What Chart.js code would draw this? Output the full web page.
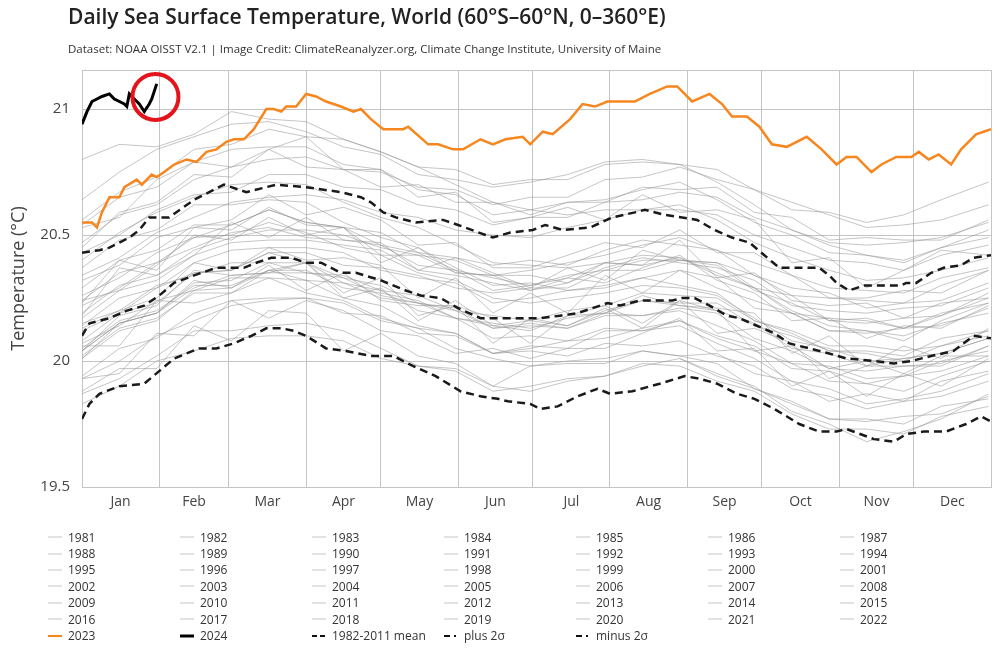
<!DOCTYPE html>
<html>
<head>
<meta charset="utf-8">
<script src="https://cdn.jsdelivr.net/npm/chart.js@4.4.1/dist/chart.umd.min.js"></script>
<style>
  html, body { margin: 0; padding: 0; background: #fff; }
  #wrap { position: relative; width: 1000px; height: 664px; overflow: hidden; font-family: 'Open Sans', 'DejaVu Sans', sans-serif; }
  #title { position: absolute; left: 68px; top: 2px; font-size: 21px; font-weight: 600; color: #222; white-space: nowrap; }
  #sub { position: absolute; left: 68px; top: 41px; font-size: 11.5px; color: #333; white-space: nowrap; }
  #chartbox { position: absolute; left: 0; top: 0; width: 1000px; height: 664px; }
  #legend { position: absolute; left: 48px; top: 529px; width: 940px; display: grid; grid-template-columns: repeat(7, 132px); grid-auto-rows: 16.4px; font-size: 12px; color: #333; }
  .li { display: flex; align-items: center; white-space: nowrap; }
  .li svg { width: 14px; height: 10px; margin-right: 6px; flex: none; }
</style>
</head>
<body>
<div id="wrap">
  <div id="chartbox"><canvas id="c"></canvas></div>
  <div id="title">Daily Sea Surface Temperature, World (60°S–60°N, 0–360°E)</div>
  <div id="sub">Dataset: NOAA OISST V2.1 | Image Credit: ClimateReanalyzer.org, Climate Change Institute, University of Maine</div>
  <div id="legend"></div>
</div>
<script>
// ---------- axis categories ----------
const MONTHS = ['Jan','Feb','Mar','Apr','May','Jun','Jul','Aug','Sep','Oct','Nov','Dec'];
const MONTH_START = [0,31,59,90,120,151,181,212,243,273,304,334,365];
const Y_TICKS = [19.5, 20, 20.5, 21];

// ---------- grey years: values on these days of year ----------
const DAYS = [0,15,30,45,60,75,90,105,120,135,150,165,180,195,210,225,240,255,270,285,300,315,330,345,364];
const Y1981 = [null,null,null,null,null,null,null,null,null,null,null,null,null,null,null,null,20.01,19.95,19.90,19.80,19.75,19.68,19.72,19.77,19.87];
const Y1982 = [19.88,19.97,19.97,20.14,20.08,20.20,20.19,20.04,20.11,20.02,19.99,19.90,19.98,19.99,19.99,20.04,20.02,20.03,19.95,19.92,19.84,19.87,19.84,19.92,19.96];
const Y1983 = [20.02,20.13,20.17,20.27,20.27,20.33,20.27,20.24,20.17,20.13,20.05,20.01,19.98,20.00,20.01,20.04,20.02,19.99,19.89,19.83,19.77,19.77,19.75,19.82,19.85];
const Y1984 = [19.87,19.93,20.02,20.12,20.12,20.14,20.15,20.12,20.05,19.98,19.97,19.90,19.88,19.92,19.94,19.99,19.98,19.92,19.88,19.79,19.73,19.73,19.71,19.78,19.82];
const Y1985 = [19.83,19.90,20.00,20.04,20.09,20.10,20.10,20.08,20.01,19.98,19.96,19.88,19.90,19.93,19.94,19.98,20.01,19.94,19.89,19.84,19.77,19.76,19.78,19.79,19.86];
const Y1986 = [19.93,19.95,20.11,20.10,20.24,20.17,20.24,20.20,20.12,20.10,20.03,20.05,20.01,20.05,20.05,20.11,20.17,20.04,20.05,19.90,19.96,19.86,19.95,19.90,20.01];
const Y1987 = [20.01,20.12,20.16,20.28,20.29,20.36,20.32,20.31,20.25,20.23,20.17,20.15,20.13,20.17,20.19,20.24,20.23,20.23,20.14,20.10,20.04,20.04,20.02,20.09,20.12];
const Y1988 = [20.13,20.20,20.30,20.34,20.39,20.39,20.39,20.31,20.28,20.20,20.17,20.09,20.10,20.08,20.13,20.12,20.14,20.07,20.01,19.92,19.89,19.83,19.85,19.88,19.95];
const Y1989 = [19.93,20.00,20.10,20.16,20.22,20.24,20.25,20.19,20.18,20.11,20.10,20.03,20.06,20.05,20.12,20.12,20.16,20.10,20.06,19.97,19.96,19.91,19.94,19.96,20.02];
const Y1990 = [20.01,20.15,20.19,20.32,20.29,20.38,20.28,20.35,20.24,20.22,20.22,20.07,20.17,20.14,20.21,20.13,20.24,20.20,20.04,20.06,19.97,20.00,19.95,20.02,20.02];
const Y1991 = [20.05,20.16,20.20,20.30,20.30,20.36,20.36,20.29,20.27,20.24,20.17,20.14,20.16,20.14,20.20,20.24,20.22,20.20,20.15,20.05,20.03,19.98,20.01,20.03,20.09];
const Y1992 = [20.07,20.14,20.24,20.28,20.33,20.33,20.32,20.25,20.22,20.14,20.11,20.03,20.04,20.02,20.07,20.06,20.08,20.02,19.98,19.89,19.86,19.81,19.84,19.86,19.92];
const Y1993 = [19.94,20.05,20.09,20.19,20.24,20.25,20.25,20.23,20.16,20.13,20.11,20.03,20.05,20.08,20.09,20.13,20.16,20.09,20.04,19.99,19.92,19.91,19.88,19.94,20.00];
const Y1994 = [20.06,20.06,20.24,20.23,20.27,20.36,20.39,20.25,20.29,20.16,20.24,20.14,20.12,20.18,20.19,20.26,20.22,20.21,20.19,20.03,20.10,19.98,20.06,20.01,20.13];
const Y1995 = [20.12,20.19,20.29,20.35,20.36,20.43,20.39,20.33,20.30,20.23,20.20,20.13,20.14,20.13,20.18,20.18,20.20,20.14,20.08,19.99,19.98,19.93,19.94,20.00,20.04];
const Y1996 = [20.04,20.15,20.19,20.29,20.34,20.35,20.35,20.33,20.26,20.23,20.21,20.13,20.15,20.13,20.19,20.18,20.21,20.19,20.09,20.04,19.97,19.96,19.98,19.99,20.06];
const Y1997 = [20.08,20.19,20.23,20.35,20.36,20.43,20.43,20.38,20.37,20.34,20.29,20.27,20.29,20.29,20.36,20.40,20.40,20.39,20.34,20.26,20.25,20.24,20.23,20.30,20.36];
const Y1998 = [20.37,20.48,20.52,20.62,20.62,20.64,20.63,20.55,20.49,20.45,20.37,20.30,20.31,20.28,20.30,20.33,20.30,20.27,20.16,20.11,20.04,20.03,20.00,20.06,20.10];
const Y1999 = [20.04,20.18,20.22,20.36,20.34,20.35,20.39,20.27,20.33,20.18,20.22,20.17,20.07,20.18,20.22,20.15,20.24,20.11,20.13,20.07,19.93,19.98,19.98,19.98,20.06];
const Y2000 = [20.04,20.15,20.19,20.31,20.32,20.39,20.35,20.34,20.28,20.26,20.20,20.18,20.16,20.20,20.22,20.27,20.26,20.25,20.16,20.12,20.06,20.06,20.04,20.06,20.12];
const Y2001 = [20.14,20.25,20.29,20.39,20.44,20.45,20.45,20.43,20.36,20.33,20.31,20.23,20.25,20.28,20.29,20.33,20.36,20.29,20.24,20.19,20.12,20.11,20.13,20.14,20.21];
const Y2002 = [20.24,20.28,20.38,20.50,20.48,20.57,20.50,20.53,20.39,20.45,20.35,20.34,20.34,20.31,20.39,20.38,20.48,20.33,20.35,20.24,20.22,20.23,20.17,20.23,20.25];
const Y2003 = [20.29,20.40,20.44,20.54,20.54,20.60,20.55,20.53,20.46,20.43,20.36,20.33,20.30,20.33,20.39,20.38,20.41,20.34,20.29,20.19,20.17,20.16,20.13,20.19,20.23];
const Y2004 = [20.22,20.29,20.39,20.45,20.51,20.53,20.49,20.48,20.46,20.38,20.36,20.28,20.30,20.34,20.36,20.36,20.40,20.38,20.28,20.23,20.16,20.15,20.17,20.18,20.25];
const Y2005 = [20.23,20.40,20.36,20.53,20.52,20.61,20.54,20.53,20.42,20.42,20.35,20.34,20.28,20.33,20.31,20.37,20.42,20.32,20.27,20.16,20.17,20.09,20.14,20.13,20.22];
const Y2006 = [20.17,20.28,20.32,20.42,20.47,20.48,20.48,20.46,20.44,20.36,20.34,20.31,20.28,20.31,20.37,20.41,20.39,20.37,20.32,20.22,20.20,20.19,20.21,20.22,20.29];
const Y2007 = [20.26,20.33,20.43,20.49,20.50,20.55,20.51,20.45,20.42,20.35,20.32,20.25,20.23,20.25,20.27,20.30,20.29,20.26,20.17,20.08,20.05,20.00,20.01,20.03,20.09];
const Y2008 = [20.15,20.20,20.25,20.39,20.36,20.45,20.40,20.41,20.38,20.25,20.33,20.19,20.27,20.19,20.34,20.27,20.36,20.33,20.21,20.19,20.12,20.12,20.08,20.16,20.23];
const Y2009 = [20.19,20.30,20.34,20.44,20.49,20.52,20.52,20.50,20.45,20.42,20.40,20.34,20.36,20.39,20.42,20.46,20.49,20.44,20.39,20.34,20.29,20.28,20.27,20.33,20.37];
const Y2010 = [20.40,20.51,20.59,20.65,20.70,20.71,20.70,20.63,20.57,20.53,20.46,20.39,20.38,20.37,20.39,20.42,20.41,20.35,20.29,20.20,20.14,20.12,20.10,20.15,20.19];
const Y2011 = [20.18,20.37,20.34,20.42,20.55,20.49,20.57,20.48,20.47,20.36,20.41,20.35,20.29,20.37,20.32,20.44,20.40,20.39,20.29,20.26,20.16,20.17,20.13,20.18,20.27];
const Y2012 = [20.24,20.35,20.39,20.49,20.54,20.60,20.55,20.53,20.51,20.43,20.41,20.38,20.40,20.38,20.44,20.48,20.46,20.44,20.34,20.29,20.27,20.21,20.23,20.24,20.31];
const Y2013 = [20.32,20.38,20.49,20.53,20.56,20.66,20.58,20.61,20.56,20.46,20.47,20.37,20.37,20.42,20.47,20.45,20.52,20.43,20.43,20.34,20.25,20.25,20.28,20.27,20.36];
const Y2014 = [20.34,20.41,20.51,20.57,20.63,20.65,20.66,20.64,20.59,20.57,20.52,20.50,20.49,20.53,20.56,20.60,20.60,20.58,20.50,20.45,20.40,20.39,20.36,20.42,20.46];
const Y2015 = [20.47,20.58,20.62,20.72,20.77,20.80,20.81,20.76,20.75,20.69,20.68,20.62,20.65,20.65,20.72,20.73,20.77,20.72,20.68,20.60,20.59,20.55,20.58,20.64,20.71];
const Y2016 = [20.80,20.86,20.85,20.90,20.99,20.96,20.95,20.88,20.83,20.77,20.70,20.63,20.60,20.58,20.60,20.60,20.62,20.56,20.47,20.41,20.36,20.32,20.33,20.36,20.41];
const Y2017 = [20.53,20.57,20.72,20.79,20.77,20.84,20.89,20.76,20.76,20.65,20.67,20.55,20.57,20.61,20.56,20.66,20.59,20.60,20.56,20.39,20.41,20.29,20.36,20.44,20.42];
const Y2018 = [20.43,20.50,20.60,20.66,20.67,20.74,20.74,20.69,20.68,20.62,20.60,20.54,20.57,20.57,20.63,20.64,20.67,20.65,20.57,20.52,20.47,20.46,20.47,20.49,20.55];
const Y2019 = [20.56,20.67,20.73,20.84,20.86,20.92,20.89,20.88,20.83,20.77,20.76,20.70,20.72,20.72,20.78,20.79,20.78,20.76,20.68,20.63,20.58,20.53,20.54,20.56,20.62];
const Y2020 = [20.64,20.75,20.84,20.89,20.94,20.95,20.91,20.85,20.82,20.74,20.72,20.69,20.71,20.74,20.79,20.80,20.78,20.71,20.62,20.52,20.46,20.42,20.40,20.45,20.49];
const Y2021 = [20.45,20.59,20.63,20.74,20.73,20.84,20.77,20.76,20.69,20.70,20.63,20.63,20.58,20.63,20.63,20.69,20.68,20.69,20.59,20.57,20.48,20.49,20.48,20.48,20.56];
const Y2022 = [20.54,20.65,20.69,20.79,20.84,20.85,20.85,20.78,20.76,20.68,20.66,20.58,20.60,20.63,20.64,20.68,20.71,20.64,20.55,20.50,20.43,20.42,20.39,20.45,20.52];

const GREY_YEARS = [
  ['1981',Y1981],['1982',Y1982],['1983',Y1983],['1984',Y1984],['1985',Y1985],['1986',Y1986],['1987',Y1987],
  ['1988',Y1988],['1989',Y1989],['1990',Y1990],['1991',Y1991],['1992',Y1992],['1993',Y1993],['1994',Y1994],
  ['1995',Y1995],['1996',Y1996],['1997',Y1997],['1998',Y1998],['1999',Y1999],['2000',Y2000],['2001',Y2001],
  ['2002',Y2002],['2003',Y2003],['2004',Y2004],['2005',Y2005],['2006',Y2006],['2007',Y2007],['2008',Y2008],
  ['2009',Y2009],['2010',Y2010],['2011',Y2011],['2012',Y2012],['2013',Y2013],['2014',Y2014],['2015',Y2015],
  ['2016',Y2016],['2017',Y2017],['2018',Y2018],['2019',Y2019],['2020',Y2020],['2021',Y2021],['2022',Y2022]
];

// ---------- 2023 ----------
const D2023 = [0,4,6,8,11,15,17,22,24,28,30,33,37,42,46,50,54,58,61,65,69,74,77,80,82,86,90,94,98,104,109,112,116,121,129,131,139,143,149,153,160,165,170,177,180,185,189,196,201,206,211,222,228,235,239,245,252,257,261,267,272,277,283,291,297,303,307,311,317,321,327,333,336,340,344,349,353,359,362,365];
const V2023 = [20.55,20.55,20.53,20.59,20.65,20.65,20.69,20.72,20.70,20.74,20.73,20.75,20.78,20.80,20.79,20.83,20.84,20.87,20.88,20.88,20.92,21.00,21.00,20.99,21.01,21.01,21.06,21.05,21.03,21.01,20.99,21.00,20.96,20.92,20.92,20.93,20.86,20.86,20.84,20.84,20.88,20.86,20.88,20.89,20.86,20.91,20.90,20.96,21.02,21.01,21.03,21.03,21.06,21.09,21.09,21.03,21.06,21.02,20.97,20.97,20.93,20.86,20.85,20.89,20.84,20.78,20.81,20.81,20.75,20.78,20.81,20.81,20.83,20.80,20.82,20.78,20.84,20.90,20.91,20.92];

// ---------- 2024 ----------
const D2024 = [0,2,4,6,8,11,13,17,18,19,21,23,25,27,28,30];
const V2024 = [20.94,20.99,21.03,21.04,21.05,21.06,21.04,21.02,21.01,21.06,21.04,21.02,20.99,21.02,21.04,21.10];

// ---------- 1982-2011 mean ----------
const D_MEAN = [0,3,11,18,25,31,37,45,54,65,70,76,84,90,96,104,110,120,130,136,144,151,160,184,192,199,205,211,216,224,237,241,246,252,259,264,271,278,284,292,300,307,318,326,333,341,350,358,365];
const V_MEAN = [20.10,20.15,20.17,20.20,20.22,20.26,20.31,20.34,20.37,20.37,20.39,20.41,20.41,20.39,20.39,20.35,20.35,20.32,20.28,20.26,20.25,20.21,20.17,20.17,20.18,20.19,20.21,20.23,20.22,20.24,20.24,20.25,20.25,20.22,20.18,20.17,20.14,20.11,20.07,20.05,20.03,20.01,20.00,19.99,20.00,20.02,20.04,20.10,20.09];

// ---------- plus 2 sigma ----------
const D_PLUS = [0,7,11,19,23,27,35,45,57,66,78,90,104,112,116,121,126,134,145,151,162,165,172,181,186,193,204,213,222,226,234,247,254,261,268,274,280,296,300,303,308,314,329,331,335,341,346,353,358,365];
const V_PLUS = [20.43,20.44,20.45,20.49,20.52,20.57,20.57,20.64,20.70,20.67,20.70,20.69,20.67,20.65,20.63,20.59,20.57,20.55,20.56,20.54,20.50,20.49,20.51,20.52,20.54,20.52,20.53,20.57,20.59,20.60,20.58,20.56,20.52,20.49,20.47,20.42,20.37,20.37,20.34,20.31,20.28,20.30,20.30,20.31,20.31,20.35,20.37,20.38,20.41,20.42];

// ---------- minus 2 sigma ----------
const D_MINUS = [0,3,7,15,25,31,37,47,54,61,68,74,80,85,90,98,106,116,125,133,142,152,160,167,171,180,184,191,199,207,212,221,232,242,248,255,263,270,278,288,296,303,307,318,326,331,338,347,355,361,365];
const V_MINUS = [19.77,19.83,19.87,19.90,19.91,19.96,20.01,20.05,20.05,20.07,20.10,20.13,20.13,20.12,20.10,20.05,20.04,20.02,20.02,19.98,19.94,19.88,19.86,19.85,19.84,19.83,19.81,19.82,19.86,19.89,19.87,19.88,19.91,19.94,19.93,19.91,19.87,19.85,19.81,19.75,19.72,19.72,19.73,19.69,19.68,19.71,19.72,19.72,19.75,19.78,19.76];

// ---------- annotation: red circle around latest 2024 value ----------
const CIRCLE_AT = { day: 29.5, temp: 21.048 };

// ---------- styles ----------
const GRID = '#c4c4c4';
const GREY_LINE = 'rgba(150,150,150,0.55)';
const ORANGE = '#f7861e';
const DASH_COLOR = '#1a1a1a';

function pts(days, vals) { return days.map((d, i) => ({ x: d, y: vals[i] })); }

const datasets = [];
datasets.push({ label: '2024', data: pts(D2024, V2024), borderColor: '#000', borderWidth: 3, order: 0, legendKind: 'line' });
datasets.push({ label: '2023', data: pts(D2023, V2023), borderColor: ORANGE, borderWidth: 2.5, order: 1, legendKind: 'line' });
datasets.push({ label: '1982-2011 mean', data: pts(D_MEAN, V_MEAN), borderColor: DASH_COLOR, borderWidth: 2.5, borderDash: [8, 5], order: 2, legendKind: 'dash' });
datasets.push({ label: 'plus 2σ', data: pts(D_PLUS, V_PLUS), borderColor: DASH_COLOR, borderWidth: 2.5, borderDash: [8, 5], order: 2, legendKind: 'dashdot' });
datasets.push({ label: 'minus 2σ', data: pts(D_MINUS, V_MINUS), borderColor: DASH_COLOR, borderWidth: 2.5, borderDash: [8, 5], order: 2, legendKind: 'dashdot' });
GREY_YEARS.forEach(([yr, arr]) => {
  datasets.push({ label: yr, data: pts(DAYS, arr), borderColor: GREY_LINE, borderWidth: 1, order: 3, legendKind: 'grey' });
});

const MONTH_MID = MONTHS.map((m, i) => (MONTH_START[i] + MONTH_START[i + 1]) / 2);

const circlePlugin = {
  id: 'circle',
  afterDatasetsDraw(chart) {
    const { ctx, scales } = chart;
    const cx = scales.x.getPixelForValue(CIRCLE_AT.day);
    const cy = scales.y.getPixelForValue(CIRCLE_AT.temp);
    ctx.save();
    ctx.beginPath();
    ctx.arc(cx, cy, 23, 0, Math.PI * 2);
    ctx.strokeStyle = '#e3141b';
    ctx.lineWidth = 4;
    ctx.stroke();
    ctx.restore();
  }
};

Chart.defaults.font.family = "'Open Sans', 'DejaVu Sans', sans-serif";

new Chart(document.getElementById('c'), {
  type: 'line',
  data: { datasets },
  options: {
    responsive: true,
    maintainAspectRatio: false,
    animation: false,
    parsing: true,
    layout: { padding: { top: 70, right: 9, bottom: 147, left: 0 } },
    elements: { point: { radius: 0 }, line: { tension: 0, fill: false } },
    plugins: { legend: { display: false }, tooltip: { enabled: false }, title: { display: false } },
    scales: {
      x: {
        type: 'linear', min: 0, max: 365,
        afterBuildTicks: s => {
          const t = MONTH_START.map(v => ({ value: v }))
            .concat(MONTH_MID.map(v => ({ value: v })));
          t.sort((a, b) => a.value - b.value);
          s.ticks = t;
        },
        afterFit: s => { s.height = 30; },
        grid: {
          color: c => (c.tick && MONTH_START.includes(c.tick.value)) ? GRID : 'rgba(0,0,0,0)',
          lineWidth: 1, drawTicks: false
        },
        border: { color: GRID, width: 1 },
        ticks: {
          autoSkip: false, maxRotation: 0, minRotation: 0, padding: 7,
          color: '#444', font: { size: 14 },
          callback: v => { const k = MONTH_MID.indexOf(v); return k >= 0 ? MONTHS[k] : ''; }
        }
      },
      y: {
        min: 19.5, max: 21.155,
        afterBuildTicks: s => { s.ticks = Y_TICKS.concat([21.155]).map(v => ({ value: v })); },
        afterFit: s => { s.width = 82; },
        grid: { color: GRID, lineWidth: 1, drawTicks: false },
        border: { color: GRID, width: 1 },
        ticks: {
          padding: 12, color: '#444', font: { size: 15 },
          callback: v => Y_TICKS.includes(v) ? String(v) : ''
        },
        title: { display: true, text: 'Temperature (°C)', color: '#444', font: { size: 18 }, padding: { top: 8, bottom: 0 } }
      }
    }
  },
  plugins: [circlePlugin]
});

// ---------- HTML legend (grid of 7 columns) ----------
const legendOrder = GREY_YEARS.map(g => g[0]).concat(['2023', '2024', '1982-2011 mean', 'plus 2σ', 'minus 2σ']);
const legendEl = document.getElementById('legend');
legendOrder.forEach(name => {
  const ds = datasets.find(d => d.label === name);
  let sym;
  if (ds.legendKind === 'grey') sym = '<line x1="0" y1="5" x2="14" y2="5" stroke="#cfcfcf" stroke-width="1.2"/>';
  else if (ds.legendKind === 'line') sym = `<line x1="0" y1="5" x2="14" y2="5" stroke="${ds.borderColor}" stroke-width="${ds.label === '2024' ? 3 : 2}"/>`;
  else if (ds.legendKind === 'dash') sym = '<line x1="0" y1="5" x2="14" y2="5" stroke="#111" stroke-width="1.8" stroke-dasharray="5,3"/>';
  else sym = '<line x1="0" y1="5" x2="14" y2="5" stroke="#111" stroke-width="1.8" stroke-dasharray="6,4,2,4"/>';
  const div = document.createElement('div');
  div.className = 'li';
  div.innerHTML = `<svg viewBox="0 0 14 10">${sym}</svg><span>${name}</span>`;
  legendEl.appendChild(div);
});
</script>
</body>
</html>
